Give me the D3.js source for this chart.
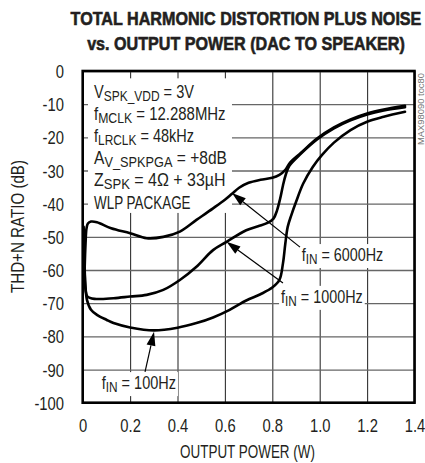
<!DOCTYPE html>
<html>
<head>
<meta charset="utf-8">
<script src="https://cdn.jsdelivr.net/npm/d3@7/dist/d3.min.js"></script>
<style>
  html, body { margin: 0; padding: 0; background: #fff; }
  svg { display: block; }
  text { font-family: "Liberation Sans", Arial, sans-serif; fill: #231f20; }
</style>
</head>
<body>
<svg id="chart" width="425" height="463"></svg>
<script>
// Axis ticks
const xTicks = [0, 0.2, 0.4, 0.6, 0.8, 1.0, 1.2, 1.4];
const yTicks = [0, -10, -20, -30, -40, -50, -60, -70, -80, -90, -100];

// THD+N (dB) vs output power (W), one pair of arrays per input frequency
const power6000 = [0.008, 0.012, 0.016, 0.022, 0.035, 0.06, 0.12, 0.2, 0.27, 0.34, 0.41, 0.48, 0.55, 0.60, 0.63, 0.66, 0.70, 0.75, 0.80, 0.83, 0.855, 0.875, 0.92, 0.99, 1.06, 1.13, 1.20, 1.27, 1.36];
const thdn6000  = [-60, -52, -47.5, -46, -45.4, -45.6, -47.4, -48.9, -50.4, -50, -48.4, -44.9, -41.4, -38.8, -37, -35.2, -33.7, -32.8, -32.2, -31.3, -29.8, -27.6, -24.7, -20.3, -17.0, -14.6, -12.8, -11.6, -10.5];

const power1000 = [0.005, 0.008, 0.012, 0.02, 0.05, 0.13, 0.2, 0.27, 0.34, 0.41, 0.48, 0.55, 0.607, 0.69, 0.74, 0.78, 0.805, 0.82, 0.833, 0.845, 0.857, 0.872, 0.92, 0.99, 1.06, 1.13, 1.20, 1.27, 1.36];
const thdn1000  = [-50, -60, -66, -68, -68.7, -68.5, -68, -67.5, -66, -63, -59, -54, -51.5, -48, -46.8, -45.8, -44.5, -42, -38.5, -34.5, -31.2, -28.6, -25.0, -20.6, -17.3, -14.9, -13.1, -11.9, -10.9];

const power100 = [0.004, 0.007, 0.011, 0.018, 0.035, 0.06, 0.1, 0.13, 0.2, 0.3, 0.4, 0.48, 0.55, 0.62, 0.69, 0.75, 0.80, 0.83, 0.845, 0.855, 0.865, 0.88, 0.90, 0.93, 0.97, 1.01, 1.06, 1.13, 1.20, 1.27, 1.36];
const thdn100  = [-47, -57, -64, -69, -72, -73.5, -75, -76, -77.3, -78.2, -77.4, -76, -74.3, -72, -69.2, -67.3, -65.3, -63, -58, -52, -47, -43.5, -39.5, -34, -29, -25.3, -21.6, -17.8, -15.3, -13.8, -12.3];

// Curve labels: text, label anchor (W, dB), arrow tail and tip (W, dB)
const labelNames = ["6000Hz", "1000Hz", "100Hz"];
const labelAt    = [[0.924, -57.3], [0.837, -69.9], [0.080, -95.9]];
const arrowTail  = [[0.917, -53.1], [0.845, -63.9], [0.263, -90.7]];
const arrowTip   = [[0.630, -36.8], [0.607, -51.5], [0.301, -78.6]];
const labelWidth = [81.6, 81.7, 74.3];

// Test conditions block: [main, subscript, rest], and drawn widths
const conditions = [
  ["V", "SPK_VDD", " = 3V"],
  ["f", "MCLK", " = 12.288MHz"],
  ["f", "LRCLK", " = 48kHz"],
  ["A", "V_SPKPGA", " = +8dB"],
  ["Z", "SPK", " = 4\u03A9 + 33\u00B5H"],
  ["WLP PACKAGE", "", ""]
];
const conditionWidth = [100, 131.7, 100, 133, 131.7, 96.7];

const svg = d3.select("#chart");
const L = 82.7, R = 414.5, T = 71, B = 402.7;
const x = d3.scaleLinear().domain([0, 1.4]).range([L, R]);
const y = d3.scaleLinear().domain([-100, 0]).range([B, T]);

// Squeeze a text horizontally to a given width around its anchor
function fit(t, px, py, width, rotate) {
  const w = t.node().getComputedTextLength();
  const s = width / w;
  t.attr("x", 0).attr("y", 0)
   .attr("transform", `translate(${px},${py})${rotate ? " rotate(" + rotate + ")" : ""} scale(${s},1)`);
  return t;
}

// Grid
const gx = svg.append("g").attr("transform", `translate(0,${B})`)
  .call(d3.axisBottom(x).tickValues(xTicks).tickSize(-(B - T)).tickFormat(""));
gx.select(".domain").remove();
gx.selectAll("line").attr("stroke", "#333").attr("stroke-width", 1.1);

const gy = svg.append("g").attr("transform", `translate(${L},0)`)
  .call(d3.axisLeft(y).tickValues(yTicks).tickSize(-(R - L)).tickFormat(""));
gy.select(".domain").remove();
gy.selectAll("line").attr("stroke", "#666").attr("stroke-width", 1.3);

// Rich text with a subscript part
function richText(g, parts, px, py, size, width) {
  const t = g.append("text").attr("font-size", size);
  t.append("tspan").text(parts[0]);
  if (parts[1]) {
    t.append("tspan").attr("font-size", size * 0.82).attr("dy", 3).text(parts[1]);
    t.append("tspan").attr("dy", -3).text(parts[2]);
  }
  return fit(t, px, py, width);
}

const maskLayer = svg.append("g");
const curveLayer = svg.append("g");
const textLayer = svg.append("g");

// Conditions block with white backing
const condG = textLayer.append("g");
conditions.forEach((c, i) => {
  richText(condG, c, 94, 98 + i * 22.1, 18.5, conditionWidth[i]);
});
const cb = condG.node().getBBox();
maskLayer.append("rect")
  .attr("x", cb.x - 6).attr("y", cb.y - 3)
  .attr("width", cb.width + 11).attr("height", cb.height + 4)
  .attr("fill", "#fff");

// Curves
const line = d3.line()
  .x(d => x(d[0])).y(d => y(d[1]))
  .curve(d3.curveCatmullRom.alpha(0.5));
[[power6000, thdn6000], [power1000, thdn1000], [power100, thdn100]].forEach(([p, v]) => {
  curveLayer.append("path")
    .datum(p.map((pp, i) => [pp, v[i]]))
    .attr("d", line)
    .attr("fill", "none")
    .attr("stroke", "#000")
    .attr("stroke-width", 2.6)
    .attr("stroke-linejoin", "round")
    .attr("stroke-linecap", "round");
});

// Labels and arrows
labelNames.forEach((name, i) => {
  const lx = x(labelAt[i][0]), ly = y(labelAt[i][1]);
  richText(textLayer, ["f", "IN", " = " + name], lx, ly, 18.5, labelWidth[i]);
  maskLayer.append("rect")
    .attr("x", lx - 2).attr("y", ly - 17)
    .attr("width", labelWidth[i] + 4).attr("height", 24)
    .attr("fill", "#fff");

  const tx = x(arrowTail[i][0]), ty = y(arrowTail[i][1]);
  const hx = x(arrowTip[i][0]), hy = y(arrowTip[i][1]);
  const ang = Math.atan2(hy - ty, hx - tx);
  const len = 14, hw = 4.5;
  const bx = hx - len * Math.cos(ang), by = hy - len * Math.sin(ang);
  curveLayer.append("line")
    .attr("x1", tx).attr("y1", ty).attr("x2", bx).attr("y2", by)
    .attr("stroke", "#000").attr("stroke-width", 1.2);
  const nx = -Math.sin(ang) * hw, ny = Math.cos(ang) * hw;
  curveLayer.append("path")
    .attr("d", `M${hx},${hy}L${bx + nx},${by + ny}L${bx - nx},${by - ny}Z`)
    .attr("fill", "#000");
});

// Frame
svg.append("rect")
  .attr("x", L).attr("y", T).attr("width", R - L).attr("height", B - T)
  .attr("fill", "none").attr("stroke", "#000").attr("stroke-width", 2.6);

// Tick labels
const xl = svg.append("g").attr("transform", `translate(0,${B})`)
  .call(d3.axisBottom(x).tickValues(xTicks).tickSize(0).tickFormat(d => d === 0 ? "0" : d.toFixed(1)));
xl.select(".domain").remove();
xl.selectAll("text")
  .attr("y", 0).attr("dy", null)
  .attr("transform", "translate(0,29) scale(0.8,1)")
  .attr("font-size", 18.5).attr("font-family", "Liberation Sans, Arial, sans-serif")
  .attr("fill", "#231f20");

const yl = svg.append("g").attr("transform", `translate(${L},0)`)
  .call(d3.axisLeft(y).tickValues(yTicks).tickSize(0).tickFormat(d => String(d)));
yl.select(".domain").remove();
yl.selectAll("text")
  .attr("x", 0).attr("dy", null)
  .attr("transform", `translate(${64 - L},6.6) scale(0.8,1)`)
  .attr("font-size", 18.5).attr("font-family", "Liberation Sans, Arial, sans-serif")
  .attr("fill", "#231f20");

// Axis titles
fit(svg.append("text").attr("text-anchor", "middle").attr("font-size", 18.5)
  .text("OUTPUT POWER (W)"), 247.5, 458, 135);

fit(svg.append("text").attr("text-anchor", "middle").attr("font-size", 18.5)
  .text("THD+N RATIO (dB)"), 23.5, 226.5, 133, -90);

// Title
const titleLines = ["TOTAL HARMONIC DISTORTION PLUS NOISE", "vs. OUTPUT POWER (DAC TO SPEAKER)"];
const titleWidths = [351, 318];
titleLines.forEach((s, i) => {
  fit(svg.append("text").attr("text-anchor", "middle")
    .attr("font-size", 18.5).attr("font-weight", "bold")
    .attr("stroke", "#231f20").attr("stroke-width", 0.6)
    .text(s), 246, 25 + i * 25, titleWidths[i]);
});

// Figure code
fit(svg.append("text").attr("text-anchor", "middle")
  .attr("font-size", 9).style("fill", "#777")
  .text("MAX98090 toc80"), 424, 109, 72, -90);
</script>
</body>
</html>
